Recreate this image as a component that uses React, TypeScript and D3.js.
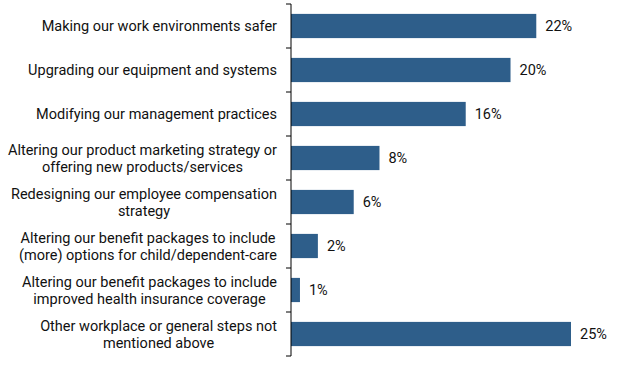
import React, { useRef, useEffect } from "react";
import * as d3 from "d3";

const categories: string[][] = [
  ["Making our work environments safer"],
  ["Upgrading our equipment and systems"],
  ["Modifying our management practices"],
  ["Altering our product marketing strategy or", "offering new products/services"],
  ["Redesigning our employee compensation", "strategy"],
  ["Altering our benefit packages to include", "(more) options for child/dependent-care"],
  ["Altering our benefit packages to include", "improved health insurance coverage"],
  ["Other workplace or general steps not", "mentioned above"],
];
const values: number[] = [21.9, 19.6, 15.6, 7.9, 5.6, 2.4, 0.8, 25.0];

const width = 620;
const height = 365;
const barColor = "#2e5e8a";
const font = "Roboto, 'Noto Sans', sans-serif";

const App: React.FC = () => {
  const svgRef = useRef<SVGSVGElement | null>(null);

  useEffect(() => {
    if (!svgRef.current) return;
    const svg = d3.select(svgRef.current);
    svg.selectAll("*").remove();

    const axisX = 291;
    const idx = categories.map((_, i) => String(i));

    const y = d3.scaleBand().domain(idx).range([4, 356]).paddingInner(0.45).paddingOuter(0.225);
    const x = d3.scaleLinear().domain([0, 25]).range([axisX, 571]);

    // bars
    svg
      .append("g")
      .selectAll("rect")
      .data(values)
      .enter()
      .append("rect")
      .attr("x", x(0))
      .attr("y", (_, i) => y(String(i))!)
      .attr("width", (d) => x(d) - x(0))
      .attr("height", y.bandwidth())
      .attr("fill", barColor);

    // value labels
    svg
      .append("g")
      .selectAll("text")
      .data(values)
      .enter()
      .append("text")
      .attr("x", (d) => x(d) + 9)
      .attr("y", (_, i) => y(String(i))! + y.bandwidth() / 2)
      .attr("dy", "0.35em")
      .attr("font-family", font)
      .attr("font-size", 14.5)
      .attr("fill", "#111")
      .text((d) => `${Math.round(d)}%`);

    // y axis with band boundary ticks
    const axisG = svg.append("g");
    axisG
      .append("line")
      .attr("x1", axisX)
      .attr("x2", axisX)
      .attr("y1", 4)
      .attr("y2", 356)
      .attr("stroke", "#000");
    const step = y.step();
    const bounds = d3.range(categories.length + 1).map((i) => 4 + i * step);
    axisG
      .selectAll("line.tick")
      .data(bounds)
      .enter()
      .append("line")
      .attr("class", "tick")
      .attr("x1", axisX - 5)
      .attr("x2", axisX)
      .attr("y1", (d) => d)
      .attr("y2", (d) => d)
      .attr("stroke", "#000");

    // category labels: block right-aligned, lines centered in block
    const labelRight = 277;
    const lineH = 17;
    categories.forEach((lines, i) => {
      const cy = y(String(i))! + y.bandwidth() / 2;
      const g = svg.append("g");
      const texts = lines.map((line, j) =>
        g
          .append("text")
          .attr("y", cy + (j - (lines.length - 1) / 2) * lineH)
          .attr("dy", "0.35em")
          .attr("text-anchor", "middle")
          .attr("font-family", font)
          .attr("font-size", 14.5)
          .attr("fill", "#111")
          .text(line)
      );
      const maxW = d3.max(texts, (t) => (t.node() as SVGTextElement).getComputedTextLength()) || 0;
      texts.forEach((t) => t.attr("x", labelRight - maxW / 2));
    });
  }, []);

  return (
    <svg
      ref={svgRef}
      width={width}
      height={height}
      style={{ position: "absolute", left: 0, top: 0, background: "#fff" }}
    />
  );
};

export default App;
